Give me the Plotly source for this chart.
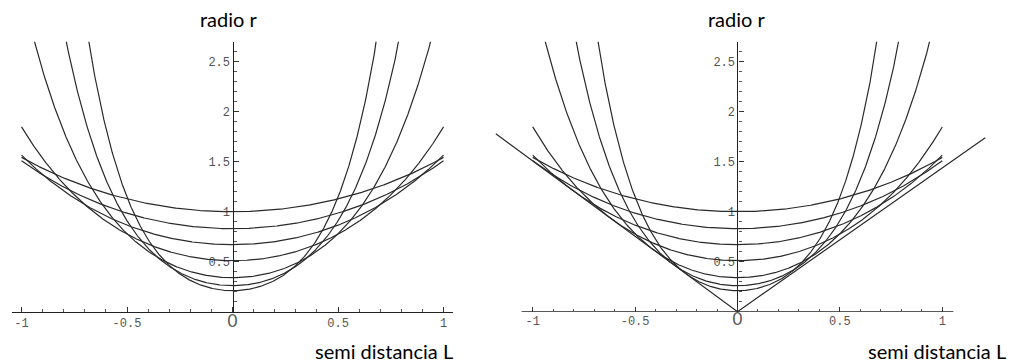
import numpy as np
import plotly.graph_objects as go

# Catenary parameters (minimum radius at L=0)
curve_minima = [1.0, 0.83, 0.67, 0.51, 0.34, 0.26, 0.21]
# Envelope lines (right panel), read endpoints
env_L = [-1.18, 0.0, 1.21]
env_r = [1.78, 0.0, 1.74]
x_tick_vals = [-1, -0.5, 0, 0.5, 1]
x_tick_text = ["-1", "-0.5", "<span style='font-size:17px;font-family:Lato'>0</span>", "0.5", "1"]
y_tick_vals = [0.5, 1, 1.5, 2, 2.5]
y_tick_text = ["0.5", "1", "1.5", "2", "2.5"]
minor_vals = [round(v, 1) for v in np.arange(-1.0, 1.01, 0.1)]
y_minor_vals = [round(v, 1) for v in np.arange(0.1, 2.71, 0.1)]

L = np.linspace(-1, 1, 801)
line_style = dict(color="#2a2a2a", width=1.2)

fig = go.Figure()
for xa, ya in [("x", "y"), ("x2", "y2")]:
    for a in curve_minima:
        fig.add_trace(go.Scatter(x=L, y=a * np.cosh(L / a), mode="lines",
                                 line=line_style, xaxis=xa, yaxis=ya,
                                 showlegend=False, hoverinfo="skip"))
fig.add_trace(go.Scatter(x=env_L, y=env_r, mode="lines", line=line_style,
                         xaxis="x2", yaxis="y2", showlegend=False, hoverinfo="skip"))

tickfont = dict(family="Liberation Mono, Courier New, monospace", size=12, color="#555")

def xaxis_cfg(domain, rng, showline, anchor):
    return dict(domain=domain, range=rng, anchor=anchor,
                tickmode="array", tickvals=x_tick_vals, ticktext=x_tick_text,
                ticks="inside", ticklen=5, tickcolor="#333", tickwidth=1,
                minor=dict(tickmode="array", tickvals=minor_vals, ticks="inside",
                           ticklen=3, tickcolor="#555"),
                showline=showline, linecolor="#222", linewidth=1.2,
                showgrid=False, zeroline=False, tickfont=tickfont, fixedrange=True,
                layer="below traces")

def yaxis_cfg(pos):
    return dict(domain=[0.1437, 0.8854], range=[0, 2.7], anchor="free", position=pos,
                tickmode="array", tickvals=y_tick_vals, ticktext=y_tick_text,
                ticks="inside", ticklen=5, tickcolor="#333", tickwidth=1,
                minor=dict(tickmode="array", tickvals=y_minor_vals, ticks="inside",
                           ticklen=3, tickcolor="#555"),
                showline=True, linecolor="#222", linewidth=1.2,
                showgrid=False, zeroline=False, tickfont=tickfont, fixedrange=True,
                layer="below traces")

fig.update_layout(
    width=1028, height=364,
    margin=dict(l=0, r=0, t=0, b=0),
    paper_bgcolor="white", plot_bgcolor="white",
    xaxis=xaxis_cfg([0.0117, 0.4407], [-1.045, 1.045], True, "y"),
    yaxis=yaxis_cfg(0.2262),
    xaxis2=xaxis_cfg([0.4684, 0.9664], [-1.25, 1.25], False, "y2"),
    yaxis2=yaxis_cfg(0.7174),
)

# axis line for right panel (shorter than the plotting range)
fig.add_shape(type="line", xref="x2", yref="y2", x0=-1.054, x1=1.054, y0=0, y1=0,
              line=dict(color="#222", width=1.2), layer="below")

title_font = dict(family="Lato, Noto Sans, sans-serif", size=20, color="black")
for x in [0.2228, 0.717]:
    fig.add_annotation(text="radio r", x=x, y=0.948, xref="paper", yref="paper",
                       xanchor="center", yanchor="middle", showarrow=False, font=title_font)
for x in [0.4426, 0.9805]:
    fig.add_annotation(text="semi distancia L", x=x, y=0.036, xref="paper", yref="paper",
                       xanchor="right", yanchor="middle", showarrow=False, font=title_font)

fig.write_html("out.html", config={"displayModeBar": False},
               post_script="document.body.style.margin='0';document.body.style.padding='0';")
